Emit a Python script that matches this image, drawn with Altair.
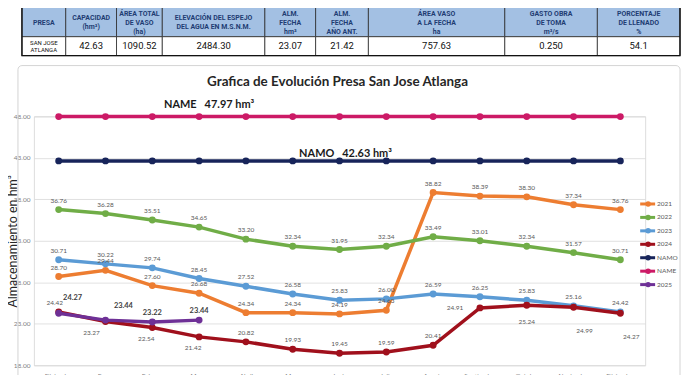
import altair as alt
import pandas as pd

# ------------------------------------------------------------------ data
months = ["Diciembre", "Enero", "Febrero", "Marzo", "Abril", "Mayo", "Junio",
          "Julio", "Agosto", "Septiembre", "Octubre", "Noviembre", "Diciembre"]
series_names = ["2021", "2022", "2023", "2024", "NAMO", "NAME", "2025"]

v2021 = [28.70, 29.44, 27.60, 26.68, 24.34, 24.34, 24.19, 24.63, 38.82, 38.39, 38.30, 37.34, 36.76]
v2022 = [36.76, 36.28, 35.51, 34.65, 33.20, 32.34, 31.95, 32.34, 33.49, 33.01, 32.34, 31.57, 30.71]
v2023 = [30.71, 30.22, 29.74, 28.45, 27.52, 26.58, 25.83, 26.00, 26.59, 26.25, 25.83, 25.16, 24.42]
v2024 = [24.42, 23.27, 22.54, 21.42, 20.82, 19.93, 19.45, 19.59, 20.41, 24.91, 25.24, 24.99, 24.27]
vNAMO = [42.63, 42.63, 42.63, 42.63, 42.63, 42.63, 42.63, 42.63, 42.63, 42.63, 42.63, 42.63, 42.63]
vNAME = [47.97, 47.97, 47.97, 47.97, 47.97, 47.97, 47.97, 47.97, 47.97, 47.97, 47.97, 47.97, 47.97]
v2025 = [24.27, 23.44, 23.22, 23.44]

y_ticks = [18, 23, 28, 33, 38, 43, 48]

table_headers = ["PRESA", "CAPACIDAD\n(hm³)", "ÁREA TOTAL\nDE VASO\n(ha)",
                 "ELEVACIÓN  DEL ESPEJO\nDEL AGUA EN M.S.N.M.", "ALM.\nFECHA\nhm³",
                 "ALM.\nFECHA\nAÑO ANT.", "ÁREA VASO\nA LA FECHA\nha",
                 "GASTO OBRA\nDE TOMA\nm³/s", "PORCENTAJE\nDE LLENADO\n%"]
table_values = ["SAN JOSE\nATLANGA", "42.63", "1090.52", "2484.30", "23.07",
                "21.42", "757.63", "0.250", "54.1"]

chart_title = "Grafica de Evolución Presa San Jose Atlanga"
y_title = "Almacenamiento en hm³"
name_note = "NAME\u00a0\u00a0 47.97 hm³"
namo_note = "NAMO\u00a0\u00a0 42.63 hm³"

# ------------------------------------------------------------------ styles / layout
colors = {"2021": "#ED7D31", "2022": "#70AD47", "2023": "#5B9BD5", "2024": "#A0101C",
          "NAMO": "#17245A", "NAME": "#CC1A66", "2025": "#6E3096"}
placements = {
    "2021": ["a"] * 13,
    "2022": ["a"] * 13,
    "2023": ["a"] * 13,
    "2024": ["al", "bl", "b", "b", "a", "a", "a", "a", "a", "l", "b2", "br", "br"],
    "2025": ["ar", "ar2", "a", "a"],
}
offsets = {"a": (0, -9), "al": (-4, -9), "b": (-6, 11), "bl": (-14, 12), "l": (-25, 0),
           "b2": (0, 17), "br": (11, 24), "ar": (14, -15), "ar2": (18, -14)}
col_widths = [44, 51, 46, 103, 51, 53, 137, 93, 83]
table_left = -12
W, H = 614, 250
FONT = "Lato"
NARROW = "Liberation Sans Narrow, Roboto, sans-serif"
HEAD_LH = 9
HEAD_CY = -94

values = {"2021": v2021, "2022": v2022, "2023": v2023, "2024": v2024,
          "NAMO": vNAMO, "NAME": vNAME, "2025": v2025}

rows = []
for s in series_names:
    for i, v in enumerate(values[s]):
        pos = placements[s][i] if s in placements else "none"
        rows.append({"series": s, "idx": i, "value": v, "lab": f"{v:.2f}", "pos": pos})
df = pd.DataFrame(rows)

label_js = "[" + ",".join(f"'{m}'" for m in months) + "]"
x_enc = alt.X("idx:O",
              scale=alt.Scale(type="point", domain=list(range(13)), padding=0.53),
              axis=alt.Axis(title=None, labelExpr=f"{label_js}[datum.value]", labelAngle=0,
                            labelFontSize=6.5, labelColor="#7f7f7f", labelPadding=7,
                            domain=False, ticks=False, grid=False))
y_enc = alt.Y("value:Q",
              scale=alt.Scale(domain=[18, 48], nice=False, zero=False),
              axis=alt.Axis(values=y_ticks, format=".2f", title=y_title, grid=True,
                            gridColor="#d9d9d9", gridWidth=0.8, domain=False, ticks=False,
                            labelFontSize=6.5, labelColor="#7f7f7f", labelPadding=4,
                            titleFontSize=12.5, titleFontWeight="normal", titleColor="#262626",
                            titleX=-21, titleY=H / 2, titleAngle=270,
                            titleBaseline="middle", titleAlign="center"))

main_layers = []
for s in series_names:
    base = alt.Chart(df).transform_filter(alt.datum.series == s)
    main_layers.append(base.mark_line(strokeWidth=3.5, color=colors[s]).encode(x=x_enc, y=y_enc))
    main_layers.append(base.mark_circle(size=48, color=colors[s], opacity=1).encode(x=x_enc, y=y_enc))

for bold in (False, True):
    for code, (dx, dy) in offsets.items():
        if bold:
            cond = (alt.datum.series == "2025") & (alt.datum.pos == code)
        else:
            cond = (alt.datum.series != "2025") & (alt.datum.pos == code)
        main_layers.append(
            alt.Chart(df).transform_filter(cond).mark_text(
                dx=dx, dy=dy, font=FONT,
                fontSize=7.5 if bold else 6.5,
                fontWeight="bold" if bold else "normal",
                color="#404040" if bold else "#595959",
            ).encode(x=x_enc, y=y_enc, text="lab:N")
        )
main = alt.layer(*main_layers)

# ------------------------------------------------------------------ table
edges = [0]
for w in col_widths:
    edges.append(edges[-1] + w)
tdf = pd.DataFrame({
    "x0": edges[:-1], "x1": edges[1:],
    "xc": [(a + b) / 2 for a, b in zip(edges[:-1], edges[1:])],
    "head": table_headers, "val": table_values, "col": list(range(len(table_headers))),
    "nl": [h.count("\n") + 1 for h in table_headers],
})
tscale = alt.Scale(domain=[0, edges[-1]], range=[table_left, table_left + edges[-1]])
tbase = alt.Chart(tdf)
table_layers = [
    tbase.mark_rect(fill="#A3C0E3", stroke="#2b2b2b", strokeWidth=0.8).encode(
        x=alt.X("x0:Q", scale=tscale, axis=None), x2="x1:Q",
        y=alt.value(-112), y2=alt.value(-80)),
    tbase.mark_rect(fill="white", stroke="#2b2b2b", strokeWidth=0.8).encode(
        x=alt.X("x0:Q", scale=tscale, axis=None), x2="x1:Q",
        y=alt.value(-80), y2=alt.value(-61)),
]
for n in (1, 2, 3):
    table_layers.append(
        tbase.transform_filter(alt.datum.nl == n).mark_text(
            font=NARROW, fontSize=7, fontWeight="bold", color="#1F3D73",
            lineBreak="\n", lineHeight=HEAD_LH, baseline="middle").encode(
            x=alt.X("xc:Q", scale=tscale, axis=None),
            y=alt.value(HEAD_CY - (n - 1) * HEAD_LH / 2), text="head:N"))
table_layers += [
    tbase.transform_filter(alt.datum.col > 0).mark_text(
        font=NARROW, fontSize=9.5, color="#111111", baseline="middle").encode(
        x=alt.X("xc:Q", scale=tscale, axis=None), y=alt.value(-70.5), text="val:N"),
    tbase.transform_filter(alt.datum.col == 0).mark_text(
        font=NARROW, fontSize=6, color="#111111", lineBreak="\n", lineHeight=7,
        baseline="middle").encode(
        x=alt.X("xc:Q", scale=tscale, axis=None), y=alt.value(-74), text="val:N"),
]
table = alt.layer(*table_layers)

one = pd.DataFrame({"k": [0]})
box = alt.Chart(one).mark_rect(fillOpacity=0, stroke="#d4d4d4", strokeWidth=1,
                               cornerRadius=4).encode(
    x=alt.value(-16), x2=alt.value(649), y=alt.value(-51), y2=alt.value(300))
table_border = alt.Chart(one).mark_rect(fillOpacity=0, stroke="#111111", strokeWidth=1.4).encode(
    x=alt.value(table_left), x2=alt.value(table_left + edges[-1]),
    y=alt.value(-112), y2=alt.value(-61))
title = alt.Chart(one).mark_text(font=FONT, fontSize=13.5, fontWeight="bold", color="#262626",
                                 baseline="middle").encode(
    x=alt.value(305), y=alt.value(-34), text=alt.value(chart_title))
note_name = alt.Chart(one).mark_text(font=FONT, fontSize=11, fontWeight="bold",
                                     color="#1a1a1a", baseline="middle").encode(
    x=alt.value(176), y=alt.value(-11), text=alt.value(name_note))
note_namo = alt.Chart(one).mark_text(font=FONT, fontSize=11, fontWeight="bold",
                                     color="#1a1a1a", baseline="middle").encode(
    x=alt.value(313), y=alt.value(38), text=alt.value(namo_note))

# ------------------------------------------------------------------ legend
ldf = pd.DataFrame({"series": series_names, "li": list(range(len(series_names))),
                    "col": [colors[s] for s in series_names]})
ly = alt.Y("li:Q", scale=alt.Scale(domain=[0, 6], range=[88, 169]), axis=None)
lbase = alt.Chart(ldf)
legend = alt.layer(
    lbase.mark_rule(strokeWidth=3).encode(x=alt.value(609), x2=alt.value(624), y=ly,
                                          color=alt.Color("col:N", scale=None)),
    lbase.mark_circle(size=30, opacity=1).encode(x=alt.value(617), y=ly,
                                                  color=alt.Color("col:N", scale=None)),
    lbase.mark_text(font=FONT, fontSize=6.5, color="#595959", align="left",
                    baseline="middle").encode(x=alt.value(626), y=ly, text="series:N"),
)

chart = alt.layer(
    box, table, table_border, title, note_name, note_namo, main, legend
).resolve_scale(x="independent", y="independent").properties(
    width=W, height=H,
    autosize=alt.AutoSizeParams(type="none"),
    padding={"left": 26, "top": 108, "right": 36, "bottom": 20},
    background="white",
).configure_view(stroke=None).configure(font=FONT)

chart.save("out.html", embed_options={"renderer": "svg", "actions": False})
